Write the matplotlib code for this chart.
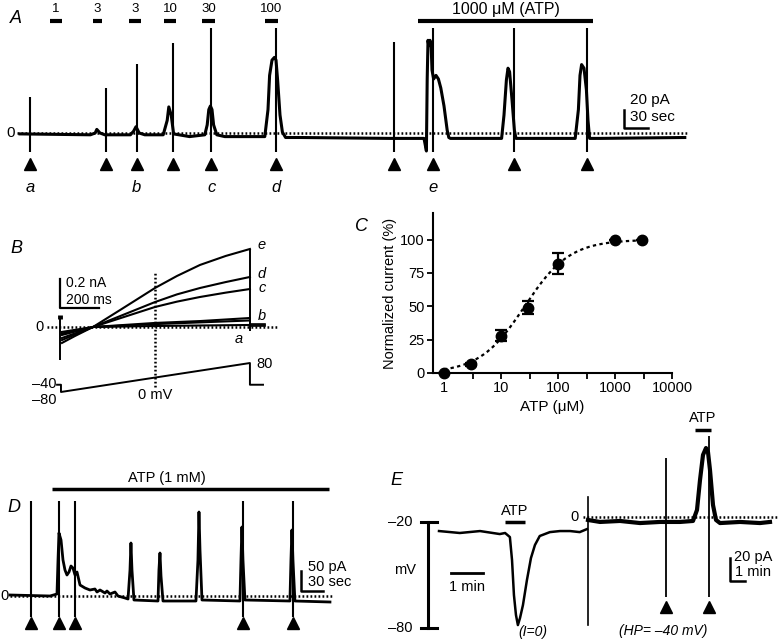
import matplotlib
matplotlib.use('Agg')
import matplotlib.pyplot as plt
import numpy as np

plt.rcParams['font.family'] = ['Liberation Sans', 'DejaVu Sans']

W, H = 778, 639
fig = plt.figure(figsize=(7.78, 6.39), dpi=100)

# ---------------- data ----------------
# Panel A: whole-cell current (time s, current pA)
a_trace_t = [0, 88, 94, 96, 100, 106, 138, 142, 145, 149, 156, 179, 184, 186, 189, 192,
             212, 231, 234, 236, 238, 240, 242, 246, 256, 306, 310, 312, 315, 318, 320,
             322, 325, 328, 332, 350, 462, 505, 508, 509, 510, 511, 512.5, 514, 515, 517,
             520, 523, 526, 530, 534, 536, 538, 550, 602, 605, 608, 610, 612, 615, 618,
             620, 694, 698, 700, 702, 705, 708, 710, 712, 725, 831]
a_trace_i = [-1, -2, 0, 4, 0, -2, -2, 2, 7, 0, -2, -2, 14, 29, 20, -1,
             -4, -2, 9, 26, 30, 26, 9, -2, -4, -4, 26, 64, 81, 84, 81,
             59, 20, 1, -5, -5, -6, -6, -20, 60, 103, 97, 103, 95, 70, 60,
             64, 60, 50, 30, 3, -5, -6, -6, -6, 20, 59, 72, 68, 37, 3,
             -6, -6, 26, 64, 76, 72, 48, 14, -6, -6, -5]
a_stim_t = [12.5, 107.5, 146, 191, 239, 320, 467.5, 516, 617.5, 709]
a_stim_top = [40, 50, 77, 100, 117, 117, 101, 117, 117, 117]
a_stim_bottom = -21
a_conc_labels = ['1', '3', '3', '10', '30', '100']
a_conc_start = [37.5, 91, 136, 180, 228, 306]
a_conc_end = [53, 103, 151, 195, 244, 322]
a_hi_start, a_hi_end = 498, 716
a_letters = ['a', 'b', 'c', 'd', 'e']
a_letter_t = [12.5, 146, 239, 320, 516]

# Panel B: ramp currents (time ms, current nA)
b_traces = {
    'e': ([10, 77, 169, 308, 400, 487, 600, 718, 850, 974],
          [-0.11, -0.062, 0, 0.117, 0.195, 0.269, 0.352, 0.428, 0.49, 0.538]),
    'd': ([10, 169, 487, 600, 718, 850, 974], [-0.09, 0, 0.172, 0.225, 0.269, 0.31, 0.345]),
    'c': ([10, 169, 487, 600, 718, 850, 974], [-0.076, 0, 0.138, 0.175, 0.207, 0.237, 0.262]),
    'b': ([10, 169, 487, 718, 974], [-0.055, 0, 0.028, 0.041, 0.062]),
    'b2': ([10, 169, 487, 974], [-0.045, 0, 0.02, 0.045]),
    'a': ([10, 169, 487, 974], [-0.034, 0, 0.007, 0.014]),
}
b_label_y = {'e': 0.566, 'd': 0.365, 'c': 0.269, 'b': 0.076}
b_volt_t = [-15, 5, 5, 974, 974, 1041]
b_volt_mv = [-40, -40, -80, 80, -40, -40]

# Panel C: concentration-response
c_conc = [1, 3, 10, 30, 100, 1000, 3000]
c_resp = [0, 6.5, 28, 49, 82, 100, 100]
c_err = [0, 1, 4, 5, 8, 0, 0]
c_ec50, c_hill = 26.0, 1.1

# Panel D: current in 1 mM ATP (time s, current pA)
d_trace_t = [0, 54.6, 64.1, 65.5, 66.8, 69.6, 72.3, 75, 77.7, 80.5, 83.2, 85.9, 88.7, 91.4,
             95.5, 102.3, 109.1, 115.9, 118.7, 122.8, 129.6, 132.3, 136.4, 143.2, 147.3,
             156.9, 161, 163.7, 165, 166.4, 169.1, 201.9, 203.2, 204.6, 206, 208.7, 253.7,
             256.4, 257.8, 259.2, 261.9, 313.7, 315.1, 316.4, 317.8, 320.5, 381.9, 383.3,
             384.6, 386, 388.7, 436.5]
d_trace_i = [2.5, 0, 5, 90, 157.5, 140, 90, 65, 52.5, 60, 75, 70, 52.5, 60,
             27.5, 20, 15, 17.5, 10, 15, 7.5, 12.5, 5, 10, 0,
             -5, -7.5, 65, 132.5, 65, -10, -12.5, 65, 107.5, 50, -12.5, -12.5,
             90, 210, 115, -10, -12.5, 90, 172.5, 90, -10, -12.5, 90,
             165, 90, -12.5, -15]
d_stim_t = [28.6, 66.8, 88.7, 317.8, 386]
d_stim_top = 237.5
d_stim_bottom = -52.5

# Panel E (left): membrane potential, time s, mV
e_v_t = [0, 39, 77, 114, 124, 133, 137, 140.6, 144.4, 148, 152, 157.5, 165, 172.5,
         180, 189, 208, 227, 246, 264, 277.5]
e_v_mv = [-25.1, -26.2, -25.1, -26.8, -26.2, -28.5, -41.5, -61.3, -72.6, -78.3, -74.3,
          -67, -52.8, -40.4, -33, -27.9, -25.7, -25.1, -25.1, -25.7, -24]
# Panel E (right): holding current, time s, pA
e_i_t = [0, 48, 128, 208, 288, 368, 420, 436, 448, 460, 472, 480, 488, 500, 512, 528,
         608, 688, 728]
e_i_pa = [-2.7, -4.5, -3.6, -5.5, -4.5, -4.5, -3.6, 6.4, 33.6, 56.4, 62.7, 59, 42.7,
          10.9, -2.7, -5.5, -4.5, -5.5, -4.5]
e_stim_t = [312, 484]
e_stim_top = [53.6, 73.6]
e_stim_bottom = -72.7

# ---------------- helpers ----------------
def panel(x0, xs, y0, ys):
    """Full-figure transparent axes; x0,y0 = pixel of data origin, xs/ys = px per unit."""
    ax = fig.add_axes([0, 0, 1, 1])
    ax.set_xlim((0 - x0) / xs, (W - x0) / xs)
    ax.set_ylim((y0 - H) / ys, y0 / ys)
    ax.axis('off')
    ax.patch.set_alpha(0)
    return ax

DOT = dict(color='black', lw=1.8, ls=(0, (0.7, 0.9)))
k = 'black'

# ---------------- Panel A ----------------
ax = panel(20, 0.8, 133, 0.9)
ax.text(-12.5, 137, 'A', fontsize=13, style='italic', va='top', ha='left')
ax.plot([-4, 835], [0, 0], **DOT)
ax.text(-7, 0, '0', fontsize=11, ha='right', va='center')
ax.plot(a_trace_t, a_trace_i, color=k, lw=2.2, solid_joinstyle='round')
ax.vlines(a_stim_t, a_stim_bottom, a_stim_top, color=k, lw=1.5)
ax.plot(a_stim_t, [-34] * len(a_stim_t), ls='none', marker='^', ms=8, color=k)
for lab, s, e in zip(a_conc_labels, a_conc_start, a_conc_end):
    ax.plot([s, e], [124.5, 124.5], color=k, lw=3, solid_capstyle='butt')
    ax.text((s + e) / 2, 138, lab, fontsize=9.5, ha='center', va='center')
ax.plot([a_hi_start, a_hi_end], [124.5, 124.5], color=k, lw=3, solid_capstyle='butt')
ax.text((a_hi_start + a_hi_end) / 2, 137.5, '1000 \u03bcM (ATP)', fontsize=11.5, ha='center', va='center')
for lab, t in zip(a_letters, a_letter_t):
    ax.text(t, -60, lab, fontsize=12, style='italic', ha='center', va='center')
ax.plot([755, 755, 785], [25.6, 5.6, 5.6], color=k, lw=1.8)
ax.text(762, 37, '20 pA', fontsize=11, ha='left', va='center')
ax.text(763, 18, '30 sec', fontsize=11, ha='left', va='center')

# ---------------- Panel B ----------------
ax = panel(60, 0.195, 327, 145)
ax.text(-256, 0.60, 'B', fontsize=13, style='italic', va='top', ha='left')
ax.plot([-67, 1113], [0, 0], **DOT)
ax.text(-85, 0, '0', fontsize=10.5, ha='right', va='center')
for key, (tt, ii) in b_traces.items():
    ax.plot(tt, ii, color=k, lw=1.5, solid_joinstyle='round')
ax.vlines([0], -0.228, 0.076, color=k, lw=1.4)
ax.plot([0, 0], [0.058, 0.082], color=k, lw=3.5, solid_capstyle='butt')
ax.vlines([974], -0.028, 0.538, color=k, lw=1.4)
for lvl in [0.007, 0.014, 0.02]:
    ax.plot([974, 1051], [lvl, lvl], color=k, lw=1.2)
ax.plot([487, 487], [-0.414, 0.379], **DOT)
ax.plot([0, 0, 200], [0.331, 0.131, 0.131], color=k, lw=1.6)
ax.text(31, 0.303, '0.2 nA', fontsize=10, ha='left', va='center')
ax.text(31, 0.186, '200 ms', fontsize=10, ha='left', va='center')
for lab, yv in b_label_y.items():
    ax.text(1035, yv, lab, fontsize=10.5, style='italic', ha='center', va='center')
ax.text(918, -0.08, 'a', fontsize=10.5, style='italic', ha='center', va='center')

axv = panel(60, 0.195, 377.5, 0.181)
axv.plot(b_volt_t, b_volt_mv, color=k, lw=1.4)
axv.text(-20, -38, '\u201340', fontsize=10.5, ha='right', va='center')
axv.text(-20, -125, '\u201380', fontsize=10.5, ha='right', va='center')
axv.text(1007, 76, '80', fontsize=10.5, ha='left', va='center')
axv.text(487, -97, '0 mV', fontsize=10.5, ha='center', va='center')

# ---------------- Panel C ----------------
axc = fig.add_axes([433 / W, (H - 373) / H, (672 - 433) / W, (373 - 213) / H])
axc.set_xscale('log')
axc.set_xlim(10 ** (-11 / 57), 10000)
axc.set_ylim(0, 120)
xf = np.logspace(0, np.log10(3000), 200)
axc.plot(xf, 100 / (1 + (c_ec50 / xf) ** c_hill), color=k, lw=1.6, ls=(0, (1.5, 1.5)))
axc.errorbar(c_conc, c_resp, yerr=c_err, fmt='o', color=k, ms=7.5, capsize=4,
             elinewidth=1.6, capthick=1.6, clip_on=False, zorder=3)
for s in ['top', 'right']:
    axc.spines[s].set_visible(False)
for s in ['left', 'bottom']:
    axc.spines[s].set_linewidth(1.5)
axc.set_xticks([1, 10, 100, 1000, 10000])
axc.set_xticklabels(['1', '10', '100', '1000', '10000'])
axc.set_xticks([10 ** 0.5, 10 ** 1.5, 10 ** 2.5, 10 ** 3.5], minor=True)
axc.set_yticks([0, 25, 50, 75, 100])
axc.tick_params(which='both', direction='out', length=4, width=1.3, labelsize=10.5, pad=2)
axc.tick_params(axis='x', which='minor', labelbottom=False)
axc.set_xlabel('ATP (\u03bcM)', fontsize=11, labelpad=3)
axc.set_ylabel('Normalized current (%)', fontsize=10.5, labelpad=2)
fig.text(355 / W, 1 - 218 / H, 'C', fontsize=13, style='italic', va='top', ha='left')

# ---------------- Panel D ----------------
ax = panel(10, 0.733, 596, 0.4)
ax.text(-3, 242, 'D', fontsize=13, style='italic', va='top', ha='left')
ax.plot([0, 439], [0, 0], **DOT)
ax.text(-2, 0, '0', fontsize=10.5, ha='right', va='center')
ax.plot(d_trace_t, d_trace_i, color=k, lw=2.0, solid_joinstyle='round')
ax.vlines(d_stim_t, d_stim_bottom, d_stim_top, color=k, lw=1.5)
ax.plot(d_stim_t, [-67] * len(d_stim_t), ls='none', marker='^', ms=8, color=k)
ax.plot([57.3, 435], [267.5, 267.5], color=k, lw=2.5, solid_capstyle='butt')
ax.text(214, 296, 'ATP (1 mM)', fontsize=10.5, ha='center', va='center')
ax.plot([397, 397, 427], [62.5, 12.5, 12.5], color=k, lw=1.8)
ax.text(406, 72, '50 pA', fontsize=10.5, ha='left', va='center')
ax.text(406, 35, '30 sec', fontsize=10.5, ha='left', va='center')

# ---------------- Panel E (voltage) ----------------
ax = panel(439, 0.533, 486.7, 1.767)
ax.text(-92, 8.5, 'E', fontsize=13, style='italic', va='top', ha='left')
ax.plot(e_v_t, e_v_mv, color=k, lw=1.8, solid_joinstyle='round')
ax.plot([-20.6, -20.6], [-80, -20], color=k, lw=2.2)
ax.plot([-33.75, -3.75], [-20, -20], color=k, lw=2.2)
ax.plot([-33.75, -3.75], [-80, -80], color=k, lw=2.2)
ax.text(-49, -20, '\u201320', fontsize=10.5, ha='right', va='center')
ax.text(-49, -80, '\u201380', fontsize=10.5, ha='right', va='center')
ax.text(-64, -47.2, 'mV', fontsize=10.5, ha='center', va='center')
ax.plot([123.75, 161], [-20, -20], color=k, lw=2.5, solid_capstyle='butt')
ax.text(142, -14, 'ATP', fontsize=10.5, ha='center', va='center')
ax.plot([22.5, 82.5], [-48.9, -48.9], color=k, lw=2)
ax.text(52.5, -56.5, '1 min', fontsize=10.5, ha='center', va='center')
ax.text(176, -82, '(I=0)', fontsize=10, style='italic', ha='center', va='center')

# ---------------- Panel E (current) ----------------
ax = panel(588, 0.25, 517, 1.1)
ax.plot([-20, 760], [0, 0], **DOT)
ax.text(-36, 0, '0', fontsize=10.5, ha='right', va='center')
ax.plot([0, 0], [-98, 18], color=k, lw=1.2)
ax.plot(e_i_t, e_i_pa, color=k, lw=3.0, solid_joinstyle='round')
ax.vlines(e_stim_t, e_stim_bottom, e_stim_top, color=k, lw=1.3)
ax.plot(e_stim_t, [-82] * len(e_stim_t), ls='none', marker='^', ms=8, color=k)
ax.plot([428, 492], [79, 79], color=k, lw=2.5, solid_capstyle='butt')
ax.text(460, 90, 'ATP', fontsize=10.5, ha='center', va='center')
ax.plot([568, 568, 628], [-37, -58, -58], color=k, lw=1.8)
ax.text(584, -36, '20 pA', fontsize=10.5, ha='left', va='center')
ax.text(588, -50, '1 min', fontsize=10.5, ha='left', va='center')
ax.text(300, -104, '(HP= \u201340 mV)', fontsize=10, style='italic', ha='center', va='center')

fig.savefig('out.png', dpi=100)
